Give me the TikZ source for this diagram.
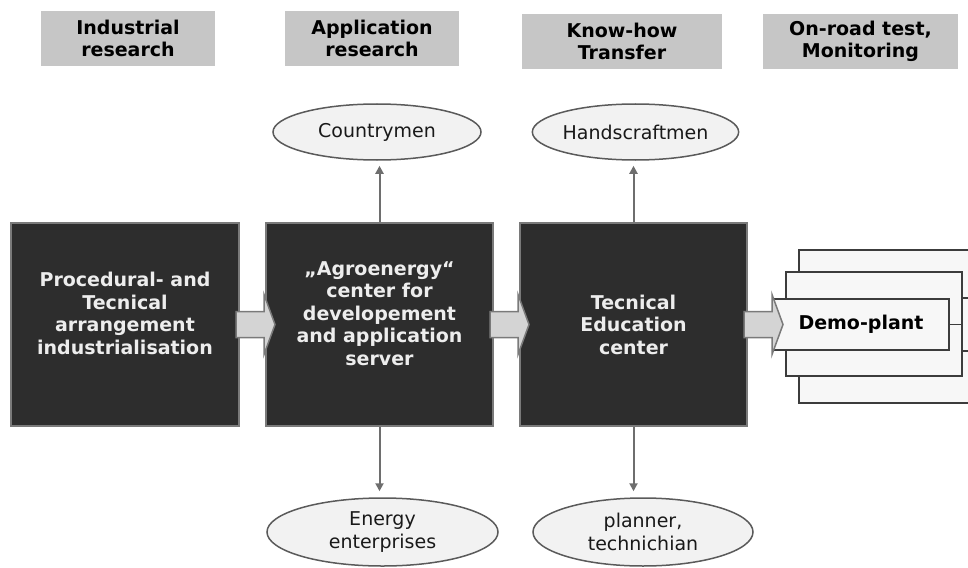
\documentclass[tikz,border=0pt]{standalone}
\usepackage{fontspec}
\setmainfont{DejaVu Sans}
\usetikzlibrary{arrows.meta,calc,shapes.geometric}

\definecolor{boxdark}{HTML}{2D2D2D}
\definecolor{boxline}{HTML}{7A7A7A}
\definecolor{hdrgray}{HTML}{C6C6C6}
\definecolor{ellfill}{HTML}{F2F2F2}
\definecolor{ellline}{HTML}{5A5A5A}
\definecolor{plantfill}{HTML}{F7F7F7}
\definecolor{plantline}{HTML}{3C3C3C}
\definecolor{arrgray}{HTML}{6E6E6E}
\definecolor{blockfill}{HTML}{D4D4D4}

% fat grey arrow leaving a box to the right
\newcommand{\blockarrow}[1]{%
  \filldraw[blockarr] ($(#1.east)+(-4,-13)$) -- ++(28,0) -- ++(0,-17) -- ++(11,30)
    -- ++(-11,30) -- ++(0,-17) -- ++(-28,0) -- cycle;}

\begin{document}
\begin{tikzpicture}[x=1pt,y=-1pt,>={Triangle[length=8pt,width=8pt]},
  every node/.style={font=\fontsize{19}{22.5}\selectfont, align=center, inner sep=0pt},
  hdr/.style={fill=hdrgray, font=\fontsize{19}{22.5}\selectfont\bfseries, minimum height=55pt},
  dark/.style={fill=boxdark, draw=boxline, line width=2pt, text=white!93!black,
    font=\fontsize{19}{22.5}\selectfont\bfseries, minimum width=227pt, minimum height=203pt},
  grp/.style={ellipse, fill=ellfill, draw=ellline, line width=1.5pt, text=black!90},
  plant/.style={fill=plantfill, draw=plantline, line width=1.6pt},
  link/.style={->, draw=arrgray, line width=2pt},
  blockarr/.style={fill=blockfill, draw=boxline, line width=1.5pt}]
\useasboundingbox (0,0) rectangle (968,567);

% phases
\node[hdr, minimum width=174pt] (hind) at (128,38.5) {Industrial\\research};
\node[hdr, minimum width=174pt] (happ) at (372,38.5) {Application\\research};
\node[hdr, minimum width=200pt] (hknow) at (622,41.5) {Know-how\\Transfer};
\node[hdr, minimum width=195pt] (hroad) at (860.5,41.5) {On-road test,\\Monitoring};

% main boxes
\node[dark, minimum width=228pt] (b1) at (125,324.5) {Procedural- and\\Tecnical\\arrangement\\industrialisation\\~};
\node[dark] (b2) at (379.5,324.5) {„Agroenergy“\\center for\\developement\\and application\\server\\~};
\node[dark] (b3) at (633.5,324.5) {Tecnical\\Education\\center};

% demo plants
\node[plant, minimum width=191pt, minimum height=153pt] (plantc) at (894.5,326.5) {};
\node[plant, minimum width=176pt, minimum height=104pt] (plantb) at (874,324) {};
\node[plant, minimum width=176pt, minimum height=51pt, font=\fontsize{19}{22.5}\selectfont\bfseries] (planta) at (861,324.5) {Demo-plant};
\draw[plantline, line width=1.6pt] (planta.east) -- (planta.east -| plantb.east);
\draw[plantline, line width=1.6pt] (plantb.east |- planta.north) -- ++(15,0);
\draw[plantline, line width=1.6pt] (plantb.east |- planta.south) -- ++(15,0);

\blockarrow{b1}
\blockarrow{b2}
\blockarrow{b3}

% target groups
\node[grp, minimum width=208pt, minimum height=56pt] (cm) at (377,132) {Countrymen};
\node[grp, minimum width=205pt, minimum height=56pt] (hm) at (635.5,132) {Handscraftmen};
\node[grp, minimum width=231pt, minimum height=68pt] (ee) at (382.5,532) {Energy\\enterprises};
\node[grp, minimum width=220pt, minimum height=68pt] (pt) at (643,532) {planner,\\technichian};

\draw[link, shorten >=5pt] (b2.north) -- (b2.north |- cm.south);
\draw[link, shorten >=5pt] (b3.north) -- (b3.north |- hm.south);
\draw[link, shorten >=6pt] (b2.south) -- (b2.south |- ee.north);
\draw[link, shorten >=6pt] (b3.south) -- (b3.south |- pt.north);
\end{tikzpicture}
\end{document}
